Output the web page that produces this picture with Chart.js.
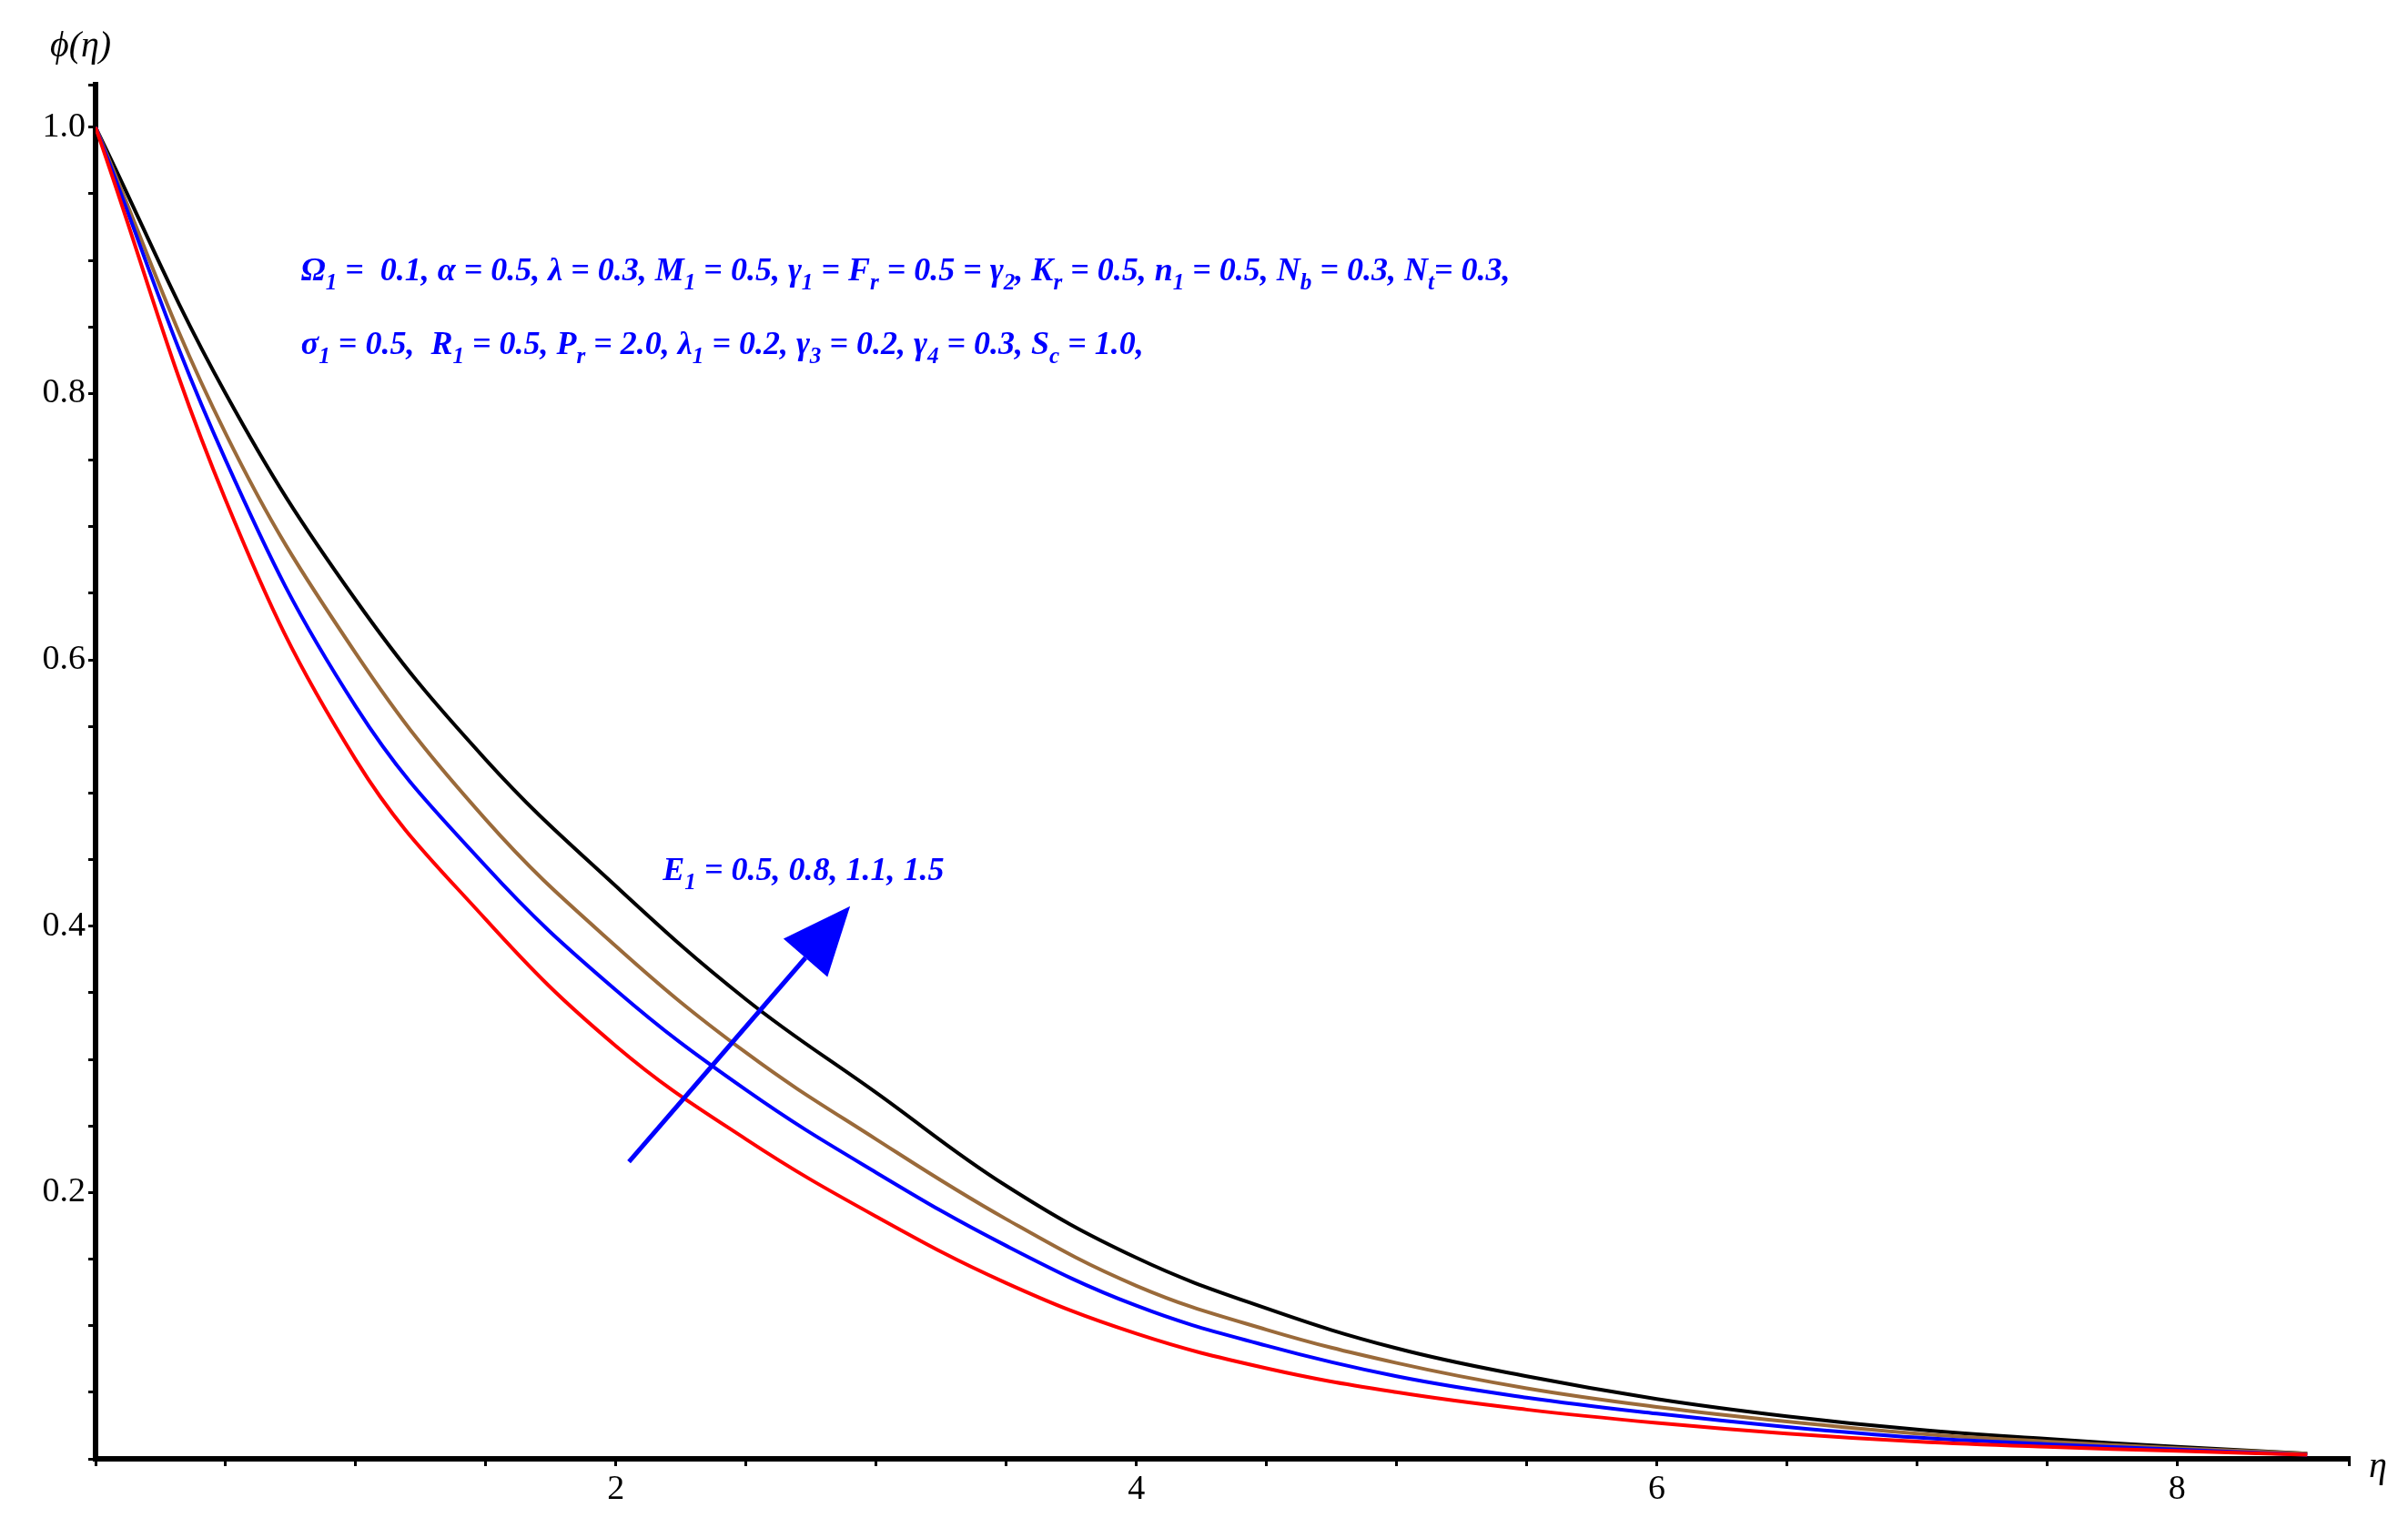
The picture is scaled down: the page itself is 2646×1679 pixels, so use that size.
<!DOCTYPE html>
<html>
<head>
<meta charset="utf-8">
<script src="https://cdn.jsdelivr.net/npm/chart.js@4/dist/chart.umd.min.js"></script>
<style>
  html, body { margin: 0; padding: 0; background: #fff; }
</style>
</head>
<body>
<canvas id="chart" width="2646" height="1679"></canvas>
<script>
const eta = [0, 0.5, 1, 1.5, 2, 2.5, 3, 3.5, 4, 4.5, 5, 5.5, 6, 6.5, 7, 7.5, 8, 8.5];
const phiE05 = [1, 0.72, 0.525, 0.405, 0.31, 0.24, 0.182, 0.132, 0.094, 0.068, 0.05, 0.037, 0.027, 0.019, 0.013, 0.009, 0.006, 0.003];
const phiE08 = [1, 0.75, 0.565, 0.445, 0.352, 0.277, 0.215, 0.16, 0.115, 0.085, 0.062, 0.046, 0.034, 0.024, 0.016, 0.011, 0.007, 0.003];
const phiE11 = [1, 0.77, 0.605, 0.48, 0.385, 0.305, 0.24, 0.18, 0.13, 0.097, 0.072, 0.053, 0.039, 0.028, 0.019, 0.013, 0.008, 0.004];
const phiE15 = [1, 0.80, 0.645, 0.525, 0.43, 0.345, 0.275, 0.205, 0.151, 0.113, 0.083, 0.062, 0.045, 0.032, 0.022, 0.015, 0.009, 0.004];
const xTickLabels = [2, 4, 6, 8];
const yTickLabels = [0.2, 0.4, 0.6, 0.8, 1.0];

const paramLine1 = "Ω_1 =  0.1, α = 0.5, λ = 0.3, M_1 = 0.5, γ_1 = F_r = 0.5 = γ_2, K_r = 0.5, n_1 = 0.5, N_b = 0.3, N_t= 0.3,";
const paramLine2 = "σ_1 = 0.5,  R_1 = 0.5, P_r = 2.0, λ_1 = 0.2, γ_3 = 0.2, γ_4 = 0.3, S_c = 1.0,";
const arrowLabel = "E_1 = 0.5, 0.8, 1.1, 1.5";

function pts(ys) { return eta.map((x, i) => ({ x: x, y: ys[i] })); }

// draw text where "_c" makes c a subscript
function richText(ctx, str, x, y, size) {
  let cx = x;
  for (let i = 0; i < str.length; i++) {
    let ch = str[i], sub = false;
    if (ch === "_" && i + 1 < str.length) { ch = str[++i]; sub = true; }
    const fs = sub ? size * 0.7 : size;
    ctx.font = "bold italic " + fs + "px 'Liberation Serif'";
    ctx.fillText(ch, cx, sub ? y + size * 0.28 : y);
    cx += ctx.measureText(ch).width;
  }
}

const annotations = {
  id: "annotations",
  afterDatasetsDraw(chart) {
    const ctx = chart.ctx, xs = chart.scales.x, ys = chart.scales.y;
    ctx.save();
    ctx.fillStyle = "#0000ff";
    ctx.textBaseline = "alphabetic";
    richText(ctx, paramLine1, xs.getPixelForValue(0.79), ys.getPixelForValue(0.885), 36);
    richText(ctx, paramLine2, xs.getPixelForValue(0.79), ys.getPixelForValue(0.83), 36);
    richText(ctx, arrowLabel, xs.getPixelForValue(2.18), ys.getPixelForValue(0.435), 36);

    const x1 = xs.getPixelForValue(2.05), y1 = ys.getPixelForValue(0.223);
    const x2 = xs.getPixelForValue(2.9), y2 = ys.getPixelForValue(0.415);
    const ang = Math.atan2(y2 - y1, x2 - x1), hl = 75, hw = 32;
    const bx = x2 - hl * Math.cos(ang), by = y2 - hl * Math.sin(ang);
    ctx.strokeStyle = "#0000ff";
    ctx.lineWidth = 5;
    ctx.beginPath(); ctx.moveTo(x1, y1); ctx.lineTo(bx, by); ctx.stroke();
    ctx.beginPath();
    ctx.moveTo(x2, y2);
    ctx.lineTo(bx + hw * Math.sin(ang), by - hw * Math.cos(ang));
    ctx.lineTo(bx - hw * Math.sin(ang), by + hw * Math.cos(ang));
    ctx.closePath(); ctx.fill();

    ctx.fillStyle = "#000";
    ctx.font = "italic 40px 'Liberation Serif'";
    ctx.fillText("ϕ(η)", 55, 62);
    ctx.fillText("η", 2603, ys.getPixelForValue(0) + 20);
    ctx.restore();
  }
};

function line(data, color) {
  return { data: pts(data), borderColor: color, borderWidth: 4, pointRadius: 0, tension: 0.4, fill: false };
}

new Chart(document.getElementById("chart"), {
  type: "line",
  data: {
    datasets: [
      line(phiE05, "#ff0000"),
      line(phiE08, "#0000ff"),
      line(phiE11, "#9a6a3a"),
      line(phiE15, "#000000")
    ]
  },
  options: {
    responsive: false,
    animation: false,
    devicePixelRatio: 1,
    layout: { padding: { top: 93, right: 65 } },
    plugins: { legend: { display: false }, tooltip: { enabled: false } },
    scales: {
      x: {
        type: "linear", min: 0, max: 8.66,
        afterFit: s => { s.height = 76; },
        border: { color: "#000", width: 6 },
        grid: { drawOnChartArea: false, color: "#000", tickLength: 8, lineWidth: 3 },
        ticks: {
          stepSize: 0.5, autoSkip: false, color: "#000",
          font: { family: "'Liberation Serif'", size: 38 },
          callback: v => xTickLabels.includes(v) ? String(v) : ""
        }
      },
      y: {
        min: 0, max: 1.032,
        afterFit: s => { s.width = 105; },
        border: { color: "#000", width: 6 },
        grid: { drawOnChartArea: false, color: "#000", tickLength: 8, lineWidth: 3 },
        ticks: {
          stepSize: 0.05, autoSkip: false, color: "#000",
          font: { family: "'Liberation Serif'", size: 38 },
          callback: v => {
            const r = Math.round(v * 100) / 100;
            return yTickLabels.includes(r) ? r.toFixed(1) : "";
          }
        }
      }
    }
  },
  plugins: [annotations]
});
</script>
</body>
</html>
